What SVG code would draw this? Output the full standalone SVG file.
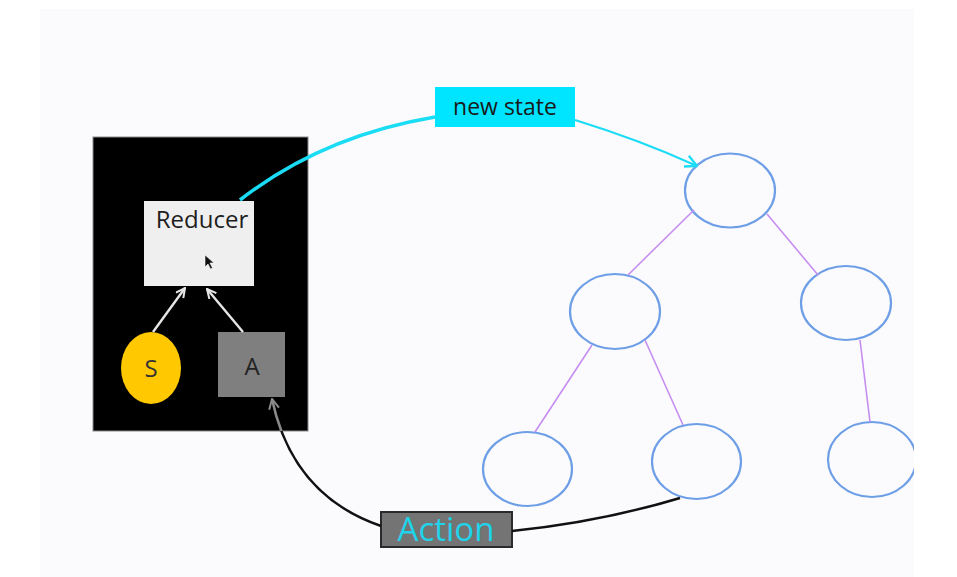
<svg xmlns="http://www.w3.org/2000/svg" width="957" height="577" viewBox="0 0 957 577">
<style>
.t{font-family:"Open Sans","Liberation Sans",sans-serif;text-anchor:middle}
.tree{fill:none;stroke:#6e9fe6;stroke-width:2.2}
.edge{stroke:#c68ef0;stroke-width:1.6;fill:none}
.white{stroke:#e6e6e6;stroke-width:2.4;fill:none}
</style>
<defs>
<clipPath id="slide"><rect x="40" y="9" width="874" height="568"/></clipPath>
<clipPath id="blk"><rect x="93" y="137" width="215" height="294"/></clipPath>
<marker id="mw" viewBox="0 0 12 12" refX="11" refY="6" markerWidth="11" markerHeight="11" orient="auto" markerUnits="userSpaceOnUse"><path d="M1,1 L11,6 L1,11" fill="none" stroke="#e6e6e6" stroke-width="2.2"/></marker>
<marker id="mc" viewBox="0 0 12 12" refX="11" refY="6" markerWidth="14" markerHeight="14" orient="auto" markerUnits="userSpaceOnUse"><path d="M1,1 L11,6 L1,11" fill="none" stroke="#1adcf5" stroke-width="2"/></marker>
<marker id="mg" viewBox="0 0 12 12" refX="11" refY="6" markerWidth="12" markerHeight="12" orient="auto" markerUnits="userSpaceOnUse"><path d="M1,1 L11,6 L1,11" fill="none" stroke="#8a8a8a" stroke-width="2"/></marker>
</defs>
<rect width="957" height="577" fill="#ffffff"/>
<rect x="40" y="9" width="874" height="568" fill="#fbfbfe"/>

<g id="store">
<rect x="93" y="137" width="215" height="294" fill="#000" stroke="#8a8a8a" stroke-width="1"/>
</g>
<g id="reducer">
<rect x="144" y="201" width="110" height="85" fill="#efefef"/>
<text class="t" x="202" y="228" font-size="24" fill="#1e1e1e">Reducer</text>
<path d="M205,255 L205,267 L208,264 L210.5,269 L212.5,268 L210,263 L214,263 Z" fill="#111" stroke="#fff" stroke-width="0.6"/>
</g>
<g id="s">
<ellipse cx="151" cy="368" rx="30" ry="36" fill="#ffc800"/>
<text class="t" x="151" y="377" font-size="24" fill="#333">S</text>
</g>
<g id="a">
<rect x="218" y="332" width="67" height="65" fill="#7f7f7f"/>
<text class="t" x="252" y="375" font-size="24" fill="#222">A</text>
</g>
<g id="newstate">
<rect x="435" y="87" width="140" height="40" fill="#00e5ff"/>
<text class="t" x="505" y="115" font-size="23" fill="#1a1a1a">new state</text>
</g>
<g id="action">
<rect x="381" y="512" width="131" height="35" fill="#747474" stroke="#2a2a2a" stroke-width="2"/>
<text class="t" x="446" y="541" font-size="33" fill="#1fd3ea">Action</text>
</g>

<g id="tree" clip-path="url(#slide)">
<ellipse id="n1" class="tree" cx="730" cy="190.5" rx="45" ry="37"/>
<ellipse id="n2" class="tree" cx="615" cy="311.5" rx="45" ry="37.5"/>
<ellipse id="n3" class="tree" cx="846" cy="303" rx="45" ry="37"/>
<ellipse id="n4" class="tree" cx="527.5" cy="469" rx="44.5" ry="37"/>
<ellipse id="n5" class="tree" cx="696.5" cy="461.5" rx="44.5" ry="37.5"/>
<ellipse id="n6" class="tree" cx="872" cy="459.5" rx="44" ry="37.5"/>
</g>

<g id="connectors">
<line class="edge" x1="694" y1="210" x2="628" y2="275"/>
<line class="edge" x1="767" y1="214" x2="818" y2="275"/>
<line class="edge" x1="592" y1="345" x2="535" y2="432"/>
<line class="edge" x1="645" y1="340" x2="683" y2="425"/>
<line class="edge" x1="860" y1="340" x2="870" y2="422"/>
<line class="white" x1="153" y1="332" x2="185" y2="288" marker-end="url(#mw)"/>
<line class="white" x1="243" y1="332" x2="207" y2="289" marker-end="url(#mw)"/>
<path d="M240,200 Q322,136 435,117" fill="none" stroke="#1adcf5" stroke-width="3.5"/>
<path d="M575,120 Q640,140 697,166" fill="none" stroke="#1adcf5" stroke-width="2" marker-end="url(#mc)"/>
<path d="M512,531 Q600,522 680,498" fill="none" stroke="#111" stroke-width="2.5"/>
<path d="M381,526 C320,505 285,460 272,399" fill="none" stroke="#111" stroke-width="2.5"/>
<path d="M381,526 C320,505 285,460 272,399" fill="none" stroke="#8a8a8a" stroke-width="2.5" clip-path="url(#blk)" marker-end="url(#mg)"/>
</g>
</svg>
